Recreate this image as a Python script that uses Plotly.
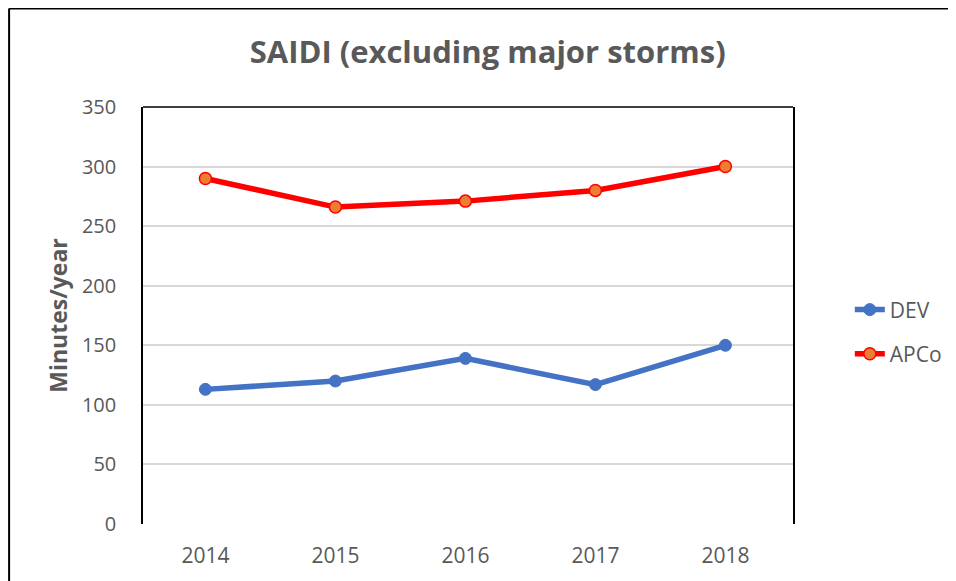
import plotly.graph_objects as go

years = ['2014', '2015', '2016', '2017', '2018']
dev = [113, 120, 139, 117, 150]
apco = [290, 266, 271, 280, 300]

fig = go.Figure()
fig.add_trace(go.Scatter(
    x=years, y=dev, name='DEV', mode='lines+markers',
    line=dict(color='#4472C4', width=5.5),
    marker=dict(color='#4472C4', size=12, line=dict(color='#4472C4', width=1)),
    legend='legend'))
fig.add_trace(go.Scatter(
    x=years, y=apco, name='APCo', mode='lines+markers',
    line=dict(color='#FF0000', width=5.5),
    marker=dict(color='#ED7D31', size=12, line=dict(color='#FF0000', width=1.5)),
    legend='legend2'))

grey = '#595959'
font = 'Open Sans'

# page has an 8px body margin, so the figure is a bit smaller than the window
fig.update_layout(
    width=948, height=573,
    margin=dict(l=135, r=163, t=99, b=57),
    paper_bgcolor='white', plot_bgcolor='white',
    font=dict(family=font, color=grey, size=20),
    title=dict(text='<b>SAIDI (excluding major storms)</b>',
               font=dict(family=font, size=31, color=grey),
               x=0.506, xanchor='center', y=0.923, yanchor='middle'),
    legend=dict(xref='container', yref='container', x=0.888, xanchor='left',
                y=0.473, yanchor='middle',
                font=dict(size=21, color=grey), bgcolor='rgba(0,0,0,0)'),
    legend2=dict(xref='container', yref='container', x=0.888, xanchor='left',
                 y=0.396, yanchor='middle',
                 font=dict(size=21, color=grey), bgcolor='rgba(0,0,0,0)'),
    showlegend=True,
)

fig.update_xaxes(
    type='category', range=[-0.48, 4.52],
    showgrid=False, showline=False, zeroline=False, automargin=False,
    ticks='outside', ticklen=13, tickcolor='rgba(0,0,0,0)',
    tickfont=dict(size=21, color=grey))

fig.update_yaxes(
    range=[0, 350], dtick=50, showgrid=True, gridcolor='#D9D9D9', gridwidth=1.5,
    zeroline=False, showline=True, linecolor='black', linewidth=1.5, mirror=True,
    automargin=False,
    ticks='outside', ticklen=21, tickcolor='rgba(0,0,0,0)',
    tickfont=dict(size=20, color=grey),
    title=dict(text='<b>Minutes/year</b>', font=dict(size=23, color=grey), standoff=8))

# top edge of plot area
fig.add_shape(type='line', xref='paper', yref='paper', x0=0, x1=1, y0=1, y1=1,
              line=dict(color='black', width=1.5))
# outer chart border (left and top)
fig.add_shape(type='line', xref='paper', yref='paper', x0=-0.206, x1=-0.206, y0=-0.2, y1=1.236,
              line=dict(color='black', width=2))
fig.add_shape(type='line', xref='paper', yref='paper', x0=-0.206, x1=1.3, y0=1.236, y1=1.236,
              line=dict(color='black', width=2))

fig.write_html("out.html")
